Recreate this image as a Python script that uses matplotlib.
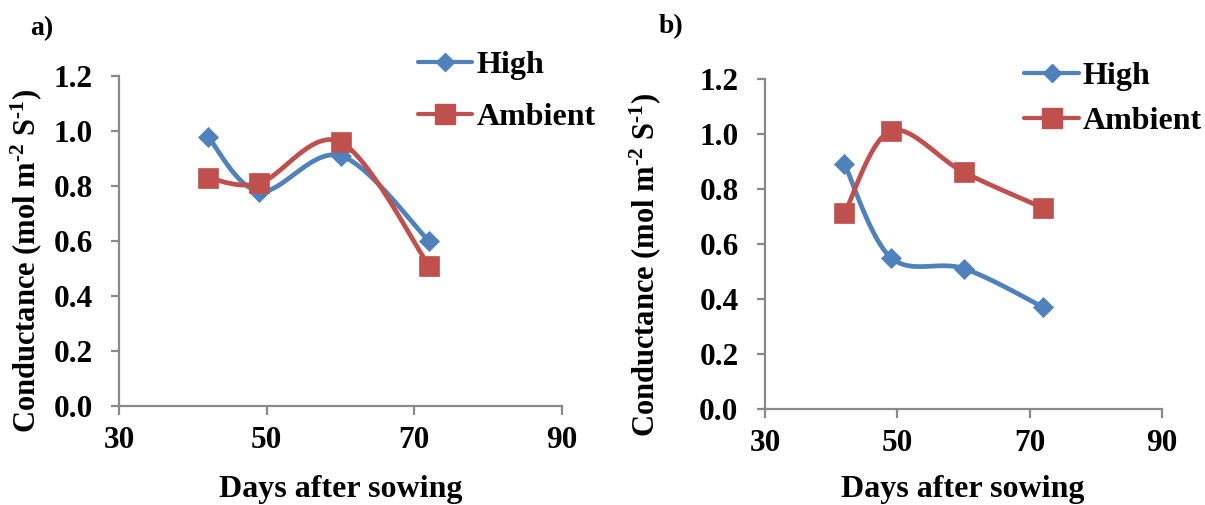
import numpy as np
import matplotlib
matplotlib.use("Agg")
import matplotlib.pyplot as plt
from matplotlib.lines import Line2D

plt.rcParams["font.family"] = ["Liberation Serif", "DejaVu Serif"]
plt.rcParams["font.weight"] = "bold"
plt.rcParams["mathtext.fontset"] = "custom"
plt.rcParams["mathtext.rm"] = "Liberation Serif:bold"
plt.rcParams["mathtext.it"] = "Liberation Serif:bold"
plt.rcParams["mathtext.bf"] = "Liberation Serif:bold"

# Days after sowing
days = [42, 49, 60, 72]

# Stomatal conductance, panel a
a_high = [0.98, 0.78, 0.91, 0.60]
a_ambient = [0.83, 0.81, 0.96, 0.51]

# Stomatal conductance, panel b
b_high = [0.89, 0.55, 0.51, 0.37]
b_ambient = [0.71, 1.01, 0.86, 0.73]

x_ticks = [30, 50, 70, 90]
y_ticks = [0.0, 0.2, 0.4, 0.6, 0.8, 1.0, 1.2]
series_names = ["High", "Ambient"]
panel_tags = ["a)", "b)"]
x_title = "Days after sowing"
y_title = "Conductance (mol m$^{\u20102}$ S$^{\u20101}$)"

BLUE = "#4F81BD"
RED = "#C0504D"
AXIS_GREY = "#898989"

W, H = 1205, 505


def fx(px):
    return px / W


def fy(py):
    return 1 - py / H


def smooth(xs, ys, n=40):
    """Catmull-Rom style smoothing (Bezier segments through every point)."""
    p = np.column_stack([xs, ys]).astype(float)
    out = []
    m = len(p)
    for i in range(m - 1):
        p0 = p[i - 1] if i > 0 else p[i]
        p1 = p[i]
        p2 = p[i + 1]
        p3 = p[i + 2] if i + 2 < m else p[i + 1]
        c1 = p1 + (p2 - p0) / 6.0
        c2 = p2 - (p3 - p1) / 6.0
        t = np.linspace(0, 1, n)[:, None]
        seg = ((1 - t) ** 3) * p1 + 3 * ((1 - t) ** 2) * t * c1 \
            + 3 * (1 - t) * t ** 2 * c2 + t ** 3 * p2
        out.append(seg if i == 0 else seg[1:])
    out = np.vstack(out)
    return out[:, 0], out[:, 1]


fig = plt.figure(figsize=(W / 100, H / 100), dpi=100)

panels = [
    dict(box=(119.3, 76, 561.7, 406), high=a_high, amb=a_ambient,
         tag=panel_tags[0], tag_xy=(30, 29), ylab_x=26, ylab_y=261,
         xlab=(340.5, 489), leg_x=(417.7, 472.3, 476.7), leg_y=(61.7, 114)),
    dict(box=(765, 78.5, 1162.3, 409), high=b_high, amb=b_ambient,
         tag=panel_tags[1], tag_xy=(659, 27), ylab_x=645, ylab_y=265,
         xlab=(962.7, 489), leg_x=(1024, 1079, 1082.7), leg_y=(72.7, 118.3)),
]

styles = [(BLUE, "D", 10.2, 8.8), (RED, "s", 14.4, 14.4)]

for p in panels:
    x0, y0, x1, y1 = p["box"]
    ax = fig.add_axes([fx(x0), fy(y1), (x1 - x0) / W, (y1 - y0) / H])
    for vals, (col, mk, ms, _) in zip([p["high"], p["amb"]], styles):
        sx, sy = smooth(days, vals)
        ax.plot(sx, sy, color=col, lw=3.4, solid_capstyle="round", zorder=2)
        ax.plot(days, vals, ls="none", marker=mk, ms=ms, color=col,
                mec=col, mew=0.5, zorder=3)

    ax.set_xlim(30, 90)
    ax.set_ylim(0, 1.2)
    ax.set_xticks(x_ticks)
    ax.set_yticks(y_ticks)
    ax.set_yticklabels([f"{v:.1f}" for v in y_ticks])
    for s in ["top", "right"]:
        ax.spines[s].set_visible(False)
    for s in ["left", "bottom"]:
        ax.spines[s].set_color(AXIS_GREY)
        ax.spines[s].set_linewidth(1.6)
    ax.tick_params(axis="both", colors=AXIS_GREY, width=1.6, labelsize=22.5,
                   labelcolor="black")
    ax.tick_params(axis="y", length=6, pad=13)
    ax.tick_params(axis="x", length=6.5, pad=8)
    for lab in ax.get_xticklabels() + ax.get_yticklabels():
        lab.set_fontweight("bold")
    ax.patch.set_alpha(0)

    fig.text(fx(p["xlab"][0]), fy(p["xlab"][1]), x_title, ha="center",
             va="center", fontsize=23, fontweight="bold")
    fig.text(fx(p["ylab_x"]), fy(p["ylab_y"]), y_title, rotation=90,
             ha="center", va="center", fontsize=22, fontweight="bold")
    fig.text(fx(p["tag_xy"][0]), fy(p["tag_xy"][1]), p["tag"],
             ha="left", va="center", fontsize=20, fontweight="bold")

    # legend entries: line with a centred marker, then the series name
    lx0, lx1, tx = p["leg_x"]
    for name, ly, (col, mk, _, lms) in zip(series_names, p["leg_y"], styles):
        fig.add_artist(Line2D([fx(lx0), fx((lx0 + lx1) / 2), fx(lx1)],
                              [fy(ly)] * 3, transform=fig.transFigure,
                              color=col, lw=3.0, solid_capstyle="round",
                              marker=mk, ms=lms, markevery=[1], mec=col))
        fig.text(fx(tx), fy(ly), name, ha="left", va="center_baseline",
                 fontsize=23, fontweight="bold")

fig.savefig("out.png", dpi=100)
